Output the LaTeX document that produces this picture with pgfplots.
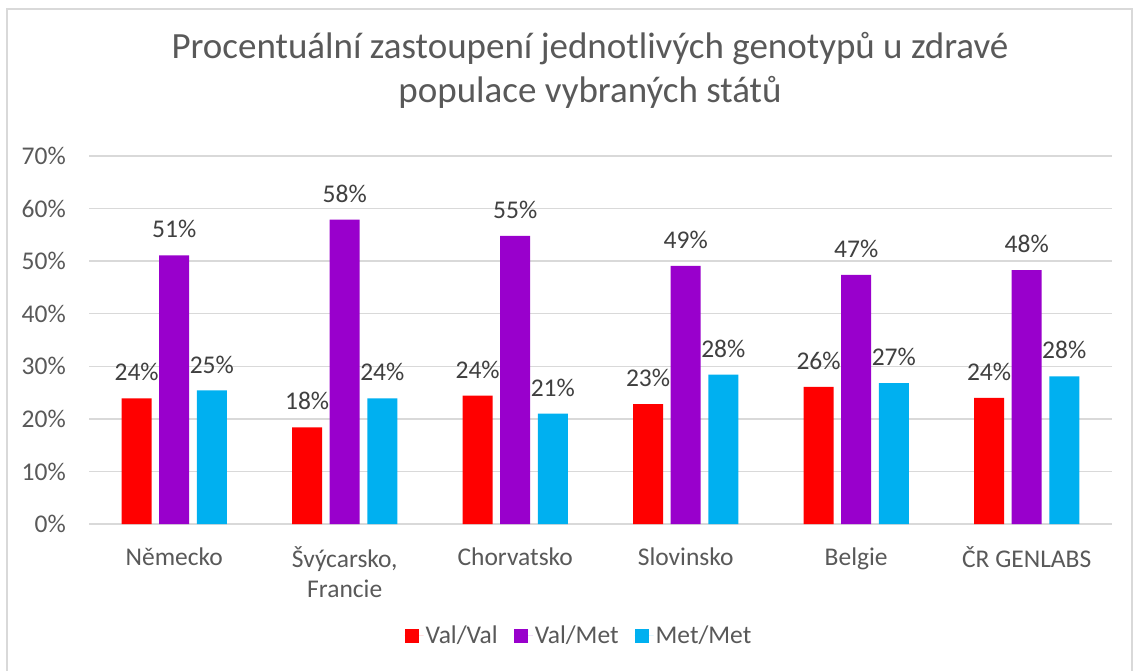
\documentclass[border=0pt]{standalone}
\usepackage{pgfplots}
\pgfplotsset{compat=1.18}
\usepackage{fontspec}
\setmainfont{Carlito}
\definecolor{cRed}{HTML}{FF0000}
\definecolor{cPur}{HTML}{9900CC}
\definecolor{cCya}{HTML}{00B0F0}
\definecolor{gridgray}{HTML}{D9D9D9}
\definecolor{txtgray}{HTML}{595959}
\definecolor{lblgray}{HTML}{404040}
\pgfplotsset{sq legend/.style={legend image code/.code={\fill[##1] (0pt,-7pt) rectangle (14pt,7pt); \path (0pt,0pt) -- (19pt,0pt);}}}
\begin{document}
\begin{tikzpicture}[x=1pt,y=1pt]
\useasboundingbox (0,0) rectangle (1141,670);
\fill[white] (0,0) rectangle (1141,670);
\draw[gridgray, line width=1.5pt] (7,-5) rectangle (1132,661);
\node[anchor=base, font=\fontsize{37}{44}\selectfont, text=txtgray] at (590,611) {Procentuální zastoupení jednotlivých genotypů u zdravé};
\node[anchor=base, font=\fontsize{37}{44}\selectfont, text=txtgray] at (590,567) {populace vybraných států};
\begin{axis}[
  at={(89pt,146pt)}, anchor=south west,
  scale only axis, width=1023pt, height=368pt,
  xmin=-0.5, xmax=5.5, ymin=0, ymax=70,
  ybar=7.6pt, bar width=30pt,
  ytick={0,10,...,70},
  yticklabel={\pgfmathprintnumber{\tick}\%},
  xtick={0,1,2,3,4,5},
  xticklabels={{\rule{0pt}{19pt}Německo},{\rule{0pt}{19pt}Švýcarsko,\\Francie},{\rule{0pt}{19pt}Chorvatsko},{\rule{0pt}{19pt}Slovinsko},{\rule{0pt}{19pt}Belgie},{\rule{0pt}{19pt}ČR GENLABS}},
  xticklabel style={align=center, anchor=north, inner sep=0pt, yshift=-18pt, font=\fontsize{25.5}{30}\selectfont, text=txtgray},
  yticklabel style={anchor=east, inner sep=0pt, xshift=-23pt, font=\fontsize{25.5}{30}\selectfont, text=txtgray},
  /pgf/number format/assume math mode=true,
  ymajorgrids, grid style={gridgray, line width=1.4pt},
  axis x line*=bottom, axis y line*=left,
  x axis line style={gridgray, line width=1.6pt},
  y axis line style={draw=none},
  tick style={draw=none},
  clip=false,
  nodes near coords={\pgfmathprintnumber[fixed,precision=0]{\pgfplotspointmeta}\%},
  every node near coord/.append style={anchor=south, inner sep=0pt, yshift=17pt, font=\fontsize{25.5}{30}\selectfont, text=lblgray},
  legend columns=3,
  legend style={at={(0.479,-0.304)}, anchor=center, draw=none, fill=none,
    font=\fontsize{25.5}{30}\selectfont, text=txtgray,
    /tikz/every even column/.append style={column sep=14pt},
    legend cell align=left},
]
\addplot[fill=cRed, draw=none, sq legend] coordinates {(0,23.9) (1,18.4) (2,24.4) (3,22.8) (4,26.1) (5,24.0)};
\addplot[fill=cPur, draw=none, sq legend] coordinates {(0,51.1) (1,57.9) (2,54.8) (3,49.1) (4,47.4) (5,48.3)};
\addplot[fill=cCya, draw=none, sq legend] coordinates {(0,25.4) (1,23.9) (2,21.0) (3,28.4) (4,26.8) (5,28.1)};
\legend{Val/Val, Val/Met, Met/Met}
\end{axis}
\end{tikzpicture}
\end{document}
